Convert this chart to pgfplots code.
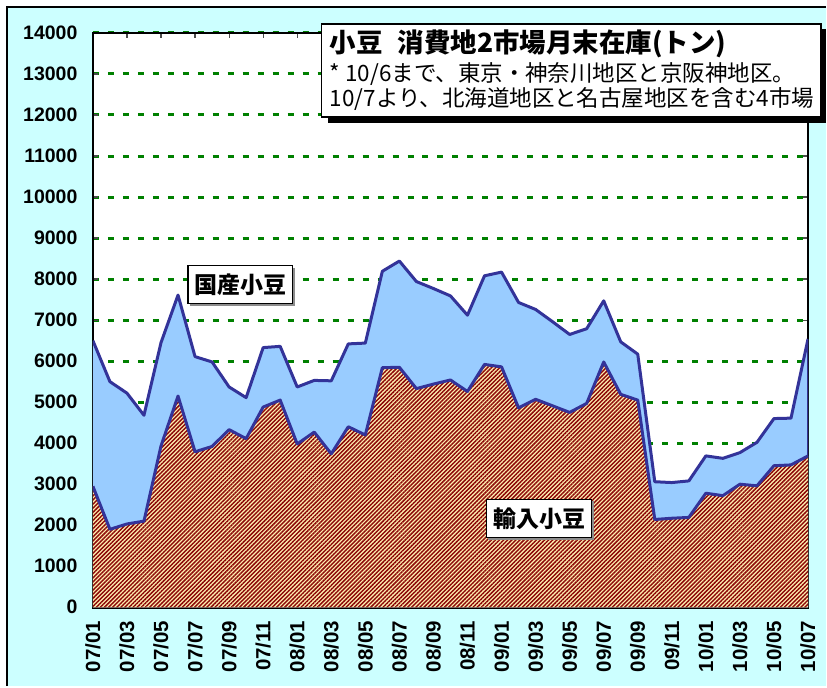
\documentclass[border=0pt]{standalone}
\usepackage{fontspec}
\setmainfont{Liberation Sans}
\newfontfamily\jp{Noto Sans CJK JP}
\usepackage{pgfplots}
\usepackage{pgfplotstable}
\pgfplotsset{compat=1.18}
\usetikzlibrary{patterns.meta}
\definecolor{bgcyan}{RGB}{204,255,255}
\definecolor{lightblue}{RGB}{153,204,255}
\definecolor{lineblue}{RGB}{51,51,153}
\definecolor{gridgreen}{RGB}{0,128,0}
\definecolor{hatchdark}{RGB}{140,8,8}
\definecolor{tanlight}{RGB}{255,238,176}
\pgfplotsset{
  layers/mylayers/.define layer set={axis background,axis grid,main,axis ticks,axis lines,axis tick labels,axis descriptions,axis foreground}{},
}
\pgfplotstableread{
m total imp
0 6500 2950
1 5500 1900
2 5220 2030
3 4680 2100
4 6450 3930
5 7610 5150
6 6110 3790
7 5980 3920
8 5370 4330
9 5110 4110
10 6330 4880
11 6360 5050
12 5370 3980
13 5530 4270
14 5520 3740
15 6420 4400
16 6440 4200
17 8190 5840
18 8440 5850
19 7940 5330
20 7770 5440
21 7590 5540
22 7120 5260
23 8080 5920
24 8170 5860
25 7430 4860
26 7260 5070
27 6960 4910
28 6650 4750
29 6790 4970
30 7470 5980
31 6470 5190
32 6170 5050
33 3060 2140
34 3040 2170
35 3080 2190
36 3690 2780
37 3630 2720
38 3770 3000
39 4020 2960
40 4600 3450
41 4610 3470
42 6540 3690
}\data
\begin{document}
\begin{tikzpicture}
\fill[white] (0,0) rectangle (827pt,687pt);
\fill[bgcyan] (7pt,0pt) rectangle (827pt,680pt);
\draw[line width=2pt] (7pt,0pt) -- (7pt,680pt) -- (827pt,680pt);
\begin{axis}[
  set layers=mylayers,
  at={(93pt,79pt)}, anchor=south west,
  width=716pt, height=575pt, scale only axis,
  xmin=0, xmax=42, ymin=0, ymax=14000,
  axis background/.style={fill=white},
  xtick={0,2,...,42},
  xticklabels={07/01,07/03,07/05,07/07,07/09,07/11,08/01,08/03,08/05,08/07,08/09,08/11,09/01,09/03,09/05,09/07,09/09,09/11,10/01,10/03,10/05,10/07},
  ytick={0,1000,...,14000},
  scaled y ticks=false,
  ymajorgrids,
  grid style={dash pattern=on 6pt off 9pt, line width=3pt, color=gridgreen},
  tick align=inside,
  major tick length=5pt,
  tick style={line width=1.2pt, color=black!70},
  axis line style={line width=2.5pt, black},
  /pgf/number format/assume math mode=true,
  /pgf/number format/set thousands separator={},
  yticklabel style={font=\bfseries\fontsize{19.5}{19.5}\selectfont},
  xticklabel style={font=\bfseries\fontsize{20.5}{20.5}\selectfont, rotate=90, anchor=east},
  yticklabel shift=12pt,
  xticklabel shift=10pt,
]
\addplot[draw=none, fill=lightblue] table[x=m,y=total]{\data} \closedcycle;
\addplot[draw=none, fill=tanlight, postaction={pattern={Lines[angle=45,distance=2.9pt,line width=1.45pt]}, pattern color=hatchdark}] table[x=m,y=imp]{\data} \closedcycle;
\addplot[color=lineblue, line width=3pt, line join=round] table[x=m,y=total]{\data};
\addplot[color=lineblue, line width=3pt, line join=round] table[x=m,y=imp]{\data};
\addplot[color=lineblue, line width=3pt] coordinates {(42,3690) (42,6540)};
\end{axis}
% title box
\fill[black] (328pt,564pt) rectangle (827pt,658pt);
\draw[fill=white, line width=1.5pt] (322pt,570pt) rectangle (822pt,663pt);
\node[anchor=base west, inner sep=0pt] at (330pt,634pt) {\jp\bfseries\fontsize{26.5}{26.5}\selectfont 小豆\hspace{15pt}消費地2市場月末在庫(トン)};
\node[anchor=base west, inner sep=0pt] at (330pt,605pt) {\jp\fontsize{22.5}{22.5}\selectfont * 10/6まで、東京・神奈川地区と京阪神地区。};
\node[anchor=base west, inner sep=0pt] at (330pt,580pt) {\jp\fontsize{22.5}{22.5}\selectfont 10/7より、北海道地区と名古屋地区を含む4市場};
% series labels
\fill[black!45] (190pt,381pt) rectangle (295.5pt,419pt);
\node[draw=black, line width=1.5pt, fill=white, minimum width=105pt, minimum height=38pt, inner sep=0pt] at (240.5pt,402pt) {\jp\bfseries\fontsize{23}{23}\selectfont 国産小豆};
\fill[black!45] (489pt,146.7pt) rectangle (594.7pt,185pt);
\node[draw=black, line width=1.5pt, fill=white, minimum width=105pt, minimum height=38pt, inner sep=0pt] at (539.7pt,167.9pt) {\jp\bfseries\fontsize{23}{23}\selectfont 輸入小豆};
\end{tikzpicture}
\end{document}
